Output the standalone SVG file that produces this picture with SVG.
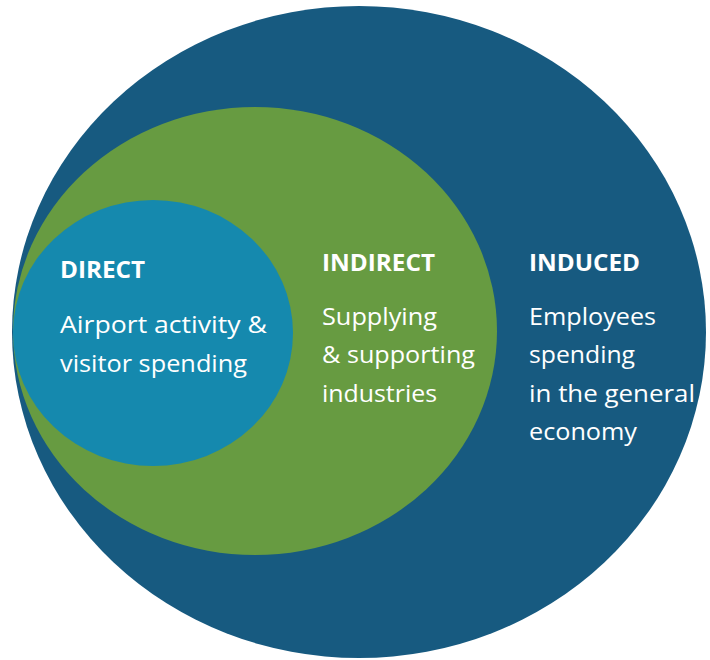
<svg xmlns="http://www.w3.org/2000/svg" width="710" height="660" viewBox="0 0 710 660">
  <style>
    .head { font-family: "Open Sans", "Liberation Sans", sans-serif; font-weight: 700; font-size: 24px; fill: #ffffff; }
    .body { font-family: "Open Sans", "Liberation Sans", sans-serif; font-weight: 400; font-size: 24px; fill: #ffffff; }
  </style>
  <rect width="710" height="660" fill="#ffffff"/>

  <!-- outer ring: induced impact -->
  <g id="induced">
    <ellipse cx="359" cy="332" rx="347" ry="326" fill="#175a80"/>
    <text class="head" x="529" y="271" textLength="111" lengthAdjust="spacingAndGlyphs">INDUCED</text>
    <text class="body" x="529" y="325" textLength="127" lengthAdjust="spacingAndGlyphs">Employees</text>
    <text class="body" x="529" y="363" textLength="106" lengthAdjust="spacingAndGlyphs">spending</text>
    <text class="body" x="529" y="402" textLength="166" lengthAdjust="spacingAndGlyphs">in the general</text>
    <text class="body" x="529" y="440" textLength="108" lengthAdjust="spacingAndGlyphs">economy</text>
  </g>

  <!-- middle ring: indirect impact -->
  <g id="indirect">
    <ellipse cx="255" cy="331" rx="242" ry="224" fill="#679b41"/>
    <text class="head" x="322" y="271" textLength="113" lengthAdjust="spacingAndGlyphs">INDIRECT</text>
    <text class="body" x="322" y="325" textLength="115" lengthAdjust="spacingAndGlyphs">Supplying</text>
    <text class="body" x="322" y="363" textLength="153" lengthAdjust="spacingAndGlyphs">&amp; supporting</text>
    <text class="body" x="322" y="402" textLength="115" lengthAdjust="spacingAndGlyphs">industries</text>
  </g>

  <!-- inner core: direct impact -->
  <g id="direct">
    <ellipse cx="153" cy="333" rx="140" ry="133" fill="#1589ae"/>
    <text class="head" x="60" y="278" textLength="85" lengthAdjust="spacingAndGlyphs">DIRECT</text>
    <text class="body" x="60" y="333" textLength="207" lengthAdjust="spacingAndGlyphs">Airport activity &amp;</text>
    <text class="body" x="60" y="372" textLength="187" lengthAdjust="spacingAndGlyphs">visitor spending</text>
  </g>

  <!-- nested sets, no connectors -->
  <g id="connectors"/>
</svg>
